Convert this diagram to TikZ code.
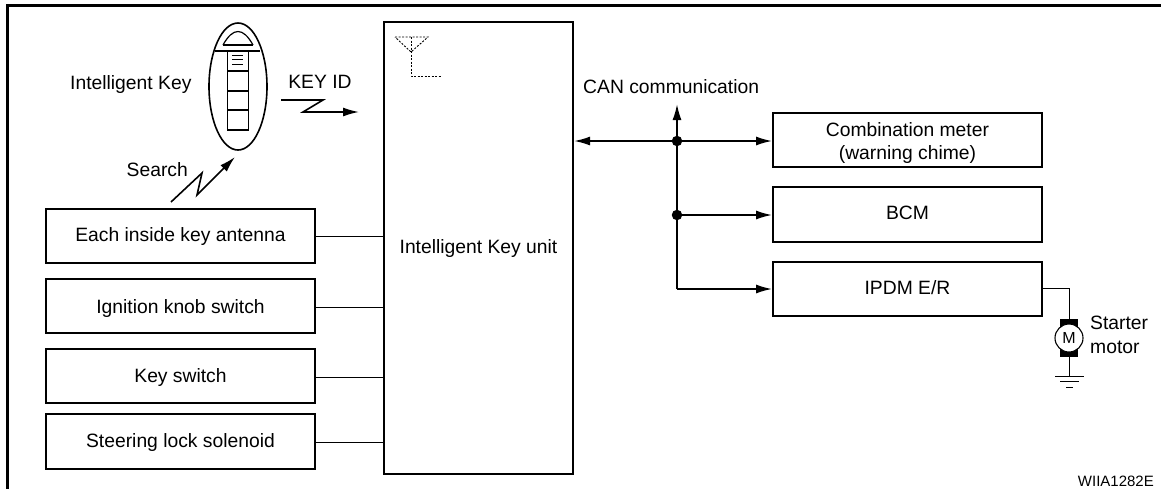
\documentclass[tikz,border=0pt]{standalone}
\usepackage{fontspec}
\setmainfont{Liberation Sans}
\usetikzlibrary{arrows.meta,shapes.geometric}
\tikzset{
  px/.style={x=1pt,y=-1pt},
  thickbox/.style={draw=black,line width=1.8pt,fill=white,inner sep=0pt,align=center,font=\fontsize{19.3}{23}\selectfont},
  lbl/.style={inner sep=0pt,font=\fontsize{19.3}{23}\selectfont,align=left},
  wire/.style={line width=1pt},
  bus/.style={line width=1.8pt},
  tipr/.style={-{Latex[length=16pt,width=9pt]}},
  tipb/.style={{Latex[length=16pt,width=9pt]}-{Latex[length=16pt,width=9pt]}},
  dotn/.style={circle,fill=black,inner sep=0pt,minimum size=10.5pt},
  dashline/.style={line width=0.9pt,dash pattern=on 2pt off 1.5pt},
  zig/.style={line width=1.6pt,line join=miter,-{Latex[length=16pt,width=9pt]}},
  fobline/.style={line width=1.2pt}
}
\newcommand{\bx}[7]{\node[thickbox,minimum width=#4pt,minimum height=#5pt] (#1) at (#2,#3) {\raisebox{#7pt}[0pt][0pt]{\begin{tabular}{@{}c@{}}#6\end{tabular}}};}
\begin{document}
\begin{tikzpicture}[px]
\useasboundingbox (0,0) rectangle (1161,488);
% frame
\draw[line width=3pt] (7.5,490) -- (7.5,5.5) -- (1163,5.5);
% boxes
\bx{ant}{180.5}{236}{269}{54}{Each inside key antenna}{-5.9}
\bx{ign}{180.5}{306}{269}{54}{Ignition knob switch}{-8.5}
\bx{ks}{180.5}{376}{269}{54}{Key switch}{-7.5}
\bx{sol}{180.5}{441.5}{269}{55}{Steering lock solenoid}{-7}
\bx{unit}{478.5}{248}{189}{452}{Intelligent Key unit}{-6.2}
\bx{cm}{907.5}{140}{269}{54}{Combination meter\\(warning chime)}{-8.5}
\bx{bcm}{907.5}{214.5}{269}{55}{BCM}{-5.7}
\bx{ipdm}{907.5}{289}{269}{54}{IPDM E/R}{-6.2}
% left wires
\coordinate (ua) at (384,236); \coordinate (ub) at (384,307);
\coordinate (uc) at (384,377); \coordinate (ud) at (384,442);
\draw[wire] (ant.east |- ua) -- (ua);
\draw[wire] (ign.east |- ub) -- (ub);
\draw[wire] (ks.east |- uc) -- (uc);
\draw[wire] (sol.east |- ud) -- (ud);
% key fob
\node[draw,line width=1.6pt,ellipse,minimum width=58pt,minimum height=127pt,inner sep=0pt] (fob) at (238,86.5) {};
\draw[line width=1.6pt] (215,51) -- (260,51);
\draw[fobline] (223,45) -- (253,45);
\draw[fobline] (223,45) .. controls (228,36) and (233,31.5) .. (238,31.5) .. controls (243,31.5) and (248,36) .. (253,45);
\draw[fobline] (227.5,51) rectangle (248.5,130);
\draw[fobline] (227.5,71) -- (248.5,71);
\draw[fobline] (227.5,91) -- (248.5,91);
\draw[fobline] (227.5,110) -- (248.5,110);
\draw[line width=0.8pt] (232,55) -- (243,55);
\draw[line width=0.8pt] (232,59.5) -- (243,59.5);
\draw[line width=0.8pt] (232,64) -- (243,64);
\node[lbl,anchor=west] (lik) at (70,85) {Intelligent Key};
% KEY ID
\node[lbl] (lid) at (320,81.5) {KEY ID};
\coordinate (k0) at (281,100); \coordinate (k1) at (323,100);
\coordinate (k2) at (303,112); \coordinate (k3) at (359,112);
\draw[zig] (k0) -- (k1) -- (k2) -- (k3);
% Search
\node[lbl,anchor=west] (lse) at (126.5,170) {Search};
\coordinate (s0) at (171,202); \coordinate (s1) at (202,173);
\coordinate (s2) at (197,195); \coordinate (s3) at (235,157);
\draw[zig] (s0) -- (s1) -- (s2) -- (s3);
% antenna
\coordinate (a0) at (395,37); \coordinate (a1) at (428,37); \coordinate (a2) at (411,52);
\coordinate (a3) at (411,76); \coordinate (a4) at (441,76); \coordinate (a5) at (411,37);
\draw[dashline] (a0) -- (a1) -- (a2) -- cycle;
\draw[dashline] (a5) -- (a3) -- (a4);
% CAN bus
\node[lbl,anchor=west] (lcan) at (583,86.5) {CAN communication};
\coordinate (ul) at (574,141); \coordinate (bt) at (677,104);
\coordinate (j1) at (677,141); \coordinate (j2) at (677,215); \coordinate (j3) at (677,289);
\draw[bus,tipb] (ul) -- (cm.west |- j1);
\draw[bus,tipr] (j3) -- (j1) -- (bt);
\draw[bus,tipr] (j2) -- (bcm.west |- j2);
\draw[bus,tipr] (j3) -- (ipdm.west |- j3);
\node[dotn] (d1) at (j1) {};
\node[dotn] (d2) at (j2) {};
% starter motor
\fill (1060,319) rectangle (1078,327);
\fill (1060,349) rectangle (1078,357);
\node[draw,fill=white,circle,line width=1.1pt,minimum size=28pt,inner sep=0pt,font=\fontsize{16}{18}\selectfont] (mot) at (1069,338) {M};
\coordinate (c1) at (1069,288); \coordinate (g0) at (1069,376);
\draw[wire] (ipdm.east |- c1) -- (c1) -- (mot.north);
\draw[wire] (mot.south) -- (g0);
\coordinate (gl1) at (1055,376); \coordinate (gr1) at (1084,376);
\coordinate (gl2) at (1060,381.5); \coordinate (gr2) at (1079,381.5);
\coordinate (gl3) at (1066,387); \coordinate (gr3) at (1073,387);
\draw[wire] (gl1) -- (gr1);
\draw[wire] (gl2) -- (gr2);
\draw[wire] (gl3) -- (gr3);
\node[lbl,anchor=west] (lst) at (1090,323) {Starter};
\node[lbl,anchor=west] (lmo) at (1090,347) {motor};
\node[lbl,anchor=east,font=\fontsize{15}{17}\selectfont] (lw) at (1154,481) {WIIA1282E};
\end{tikzpicture}
\end{document}
